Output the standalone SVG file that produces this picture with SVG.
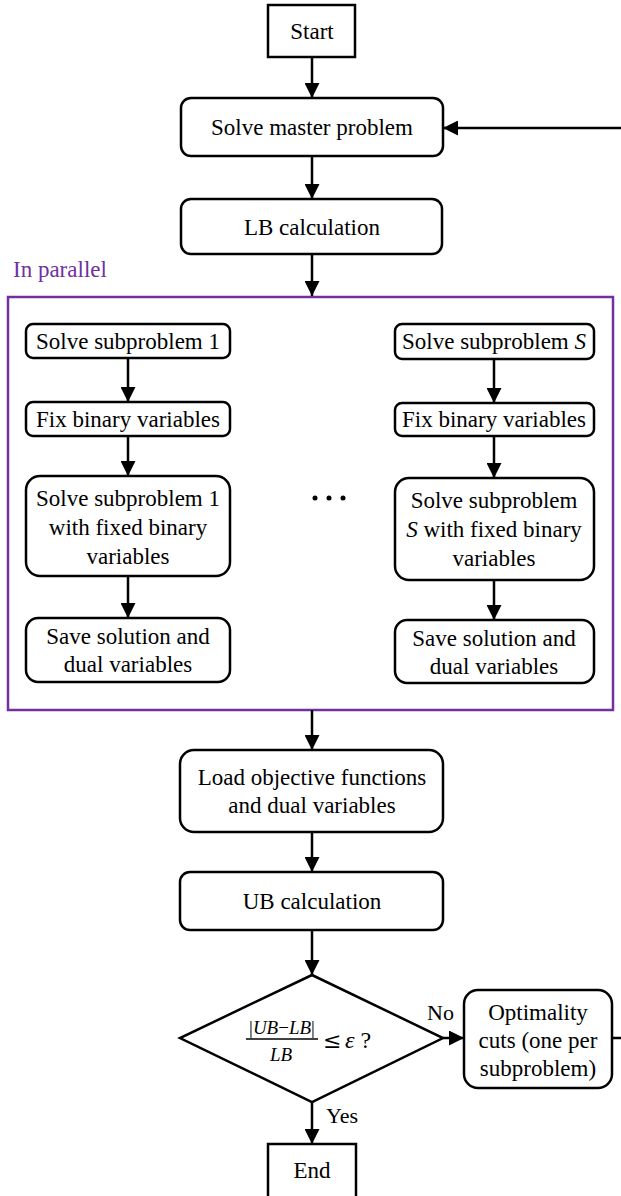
<svg xmlns="http://www.w3.org/2000/svg" width="621" height="1196" viewBox="0 0 621 1196">
<style>
.box{fill:#fff;stroke:#000;stroke-width:2.5}
.grp{fill:none;stroke:#7030A0;stroke-width:2.5}
.t{font-family:"Liberation Serif","Times New Roman",serif;font-size:23px;fill:#000;text-anchor:middle}
.lbl{font-family:"Liberation Serif","Times New Roman",serif;font-size:22px;fill:#000}
.m{font-family:"Liberation Serif","Times New Roman",serif;font-size:19px;fill:#000}
.i{font-style:italic}
.c{fill:none;stroke:#000;stroke-width:2.5}
</style>
<defs>
<marker id="ah" viewBox="0 0 10 10" refX="10" refY="5" markerUnits="userSpaceOnUse" markerWidth="15" markerHeight="15" orient="auto">
<path d="M0,0 L10,5 L0,10 z" fill="#000"/>
</marker>
</defs>
<rect width="621" height="1196" fill="#fff"/>

<g id="parallel">
<rect class="grp" x="8" y="297" width="605" height="413"/>
<text x="13" y="277" style="font-family:'Liberation Serif','Times New Roman',serif;font-size:23px;fill:#7030A0">In parallel</text>
</g>

<g id="start"><rect class="box" x="268" y="5" width="87" height="52"/><text class="t" x="312" y="39">Start</text></g>
<g id="master"><rect class="box" x="181" y="98" width="262" height="58" rx="10"/><text class="t" x="312" y="135">Solve master problem</text></g>
<g id="lb"><rect class="box" x="181" y="199" width="261" height="55" rx="10"/><text class="t" x="312" y="235">LB calculation</text></g>

<g id="sub1"><rect class="box" x="26" y="324" width="204" height="34" rx="7"/><text class="t" x="128" y="349">Solve subproblem 1</text></g>
<g id="fix1"><rect class="box" x="26" y="402" width="204" height="34" rx="7"/><text class="t" x="128" y="427">Fix binary variables</text></g>
<g id="solve1"><rect class="box" x="26" y="476" width="204" height="100" rx="14"/>
<text class="t" x="128" y="506">Solve subproblem 1</text><text class="t" x="128" y="535">with fixed binary</text><text class="t" x="128" y="564">variables</text></g>
<g id="save1"><rect class="box" x="26" y="618" width="204" height="64" rx="12"/>
<text class="t" x="128" y="644">Save solution and</text><text class="t" x="128" y="672">dual variables</text></g>

<g id="subS"><rect class="box" x="395" y="324" width="199" height="35" rx="7"/><text class="t" x="494" y="349">Solve subproblem <tspan class="i">S</tspan></text></g>
<g id="fixS"><rect class="box" x="395" y="403" width="199" height="33" rx="7"/><text class="t" x="494" y="427">Fix binary variables</text></g>
<g id="solveS"><rect class="box" x="395" y="478" width="199" height="102" rx="14"/>
<text class="t" x="494" y="508">Solve subproblem</text><text class="t" x="494" y="537"><tspan class="i">S</tspan> with fixed binary</text><text class="t" x="494" y="566">variables</text></g>
<g id="saveS"><rect class="box" x="395" y="620" width="199" height="63" rx="12"/>
<text class="t" x="494" y="646">Save solution and</text><text class="t" x="494" y="674">dual variables</text></g>

<g id="dots" fill="#000"><circle cx="315" cy="498" r="2.5"/><circle cx="329" cy="498" r="2.5"/><circle cx="343" cy="498" r="2.5"/></g>

<g id="load"><rect class="box" x="180" y="750" width="263" height="82" rx="14"/>
<text class="t" x="312" y="785">Load objective functions</text><text class="t" x="312" y="813">and dual variables</text></g>
<g id="ub"><rect class="box" x="180" y="872" width="263" height="58" rx="10"/><text class="t" x="312" y="909">UB calculation</text></g>

<g id="decision"><polygon class="box" points="312,975 443,1038 312,1102 180,1038"/>
<text class="m" x="282" y="1034" text-anchor="middle">|<tspan class="i">UB</tspan>−<tspan class="i">LB</tspan>|</text>
<line x1="246" y1="1039" x2="318" y2="1039" stroke="#000" stroke-width="1.3"/>
<text class="m i" x="281" y="1061" text-anchor="middle">LB</text>
<text x="323" y="1048" style="font-family:'DejaVu Serif',serif;font-size:22px">≤</text>
<text x="345" y="1048" style="font-family:'Liberation Serif','Times New Roman',serif;font-size:24px"><tspan font-style="italic">ε</tspan> ?</text>
</g>

<g id="opt"><rect class="box" x="464" y="990" width="148" height="98" rx="14"/>
<text class="t" x="538" y="1020">Optimality</text><text class="t" x="538" y="1048">cuts (one per</text><text class="t" x="538" y="1076">subproblem)</text></g>

<g id="end"><rect class="box" x="268" y="1144" width="88" height="60"/><text class="t" x="312" y="1178">End</text></g>

<g id="connectors">
<line class="c" x1="312" y1="57" x2="312" y2="98" marker-end="url(#ah)"/>
<line class="c" x1="312" y1="156" x2="312" y2="199" marker-end="url(#ah)"/>
<line class="c" x1="312" y1="254" x2="312" y2="296" marker-end="url(#ah)"/>
<line class="c" x1="128" y1="358" x2="128" y2="402" marker-end="url(#ah)"/>
<line class="c" x1="128" y1="436" x2="128" y2="476" marker-end="url(#ah)"/>
<line class="c" x1="128" y1="576" x2="128" y2="618" marker-end="url(#ah)"/>
<line class="c" x1="494" y1="359" x2="494" y2="403" marker-end="url(#ah)"/>
<line class="c" x1="494" y1="436" x2="494" y2="478" marker-end="url(#ah)"/>
<line class="c" x1="494" y1="580" x2="494" y2="620" marker-end="url(#ah)"/>
<line class="c" x1="312" y1="710" x2="312" y2="750" marker-end="url(#ah)"/>
<line class="c" x1="312" y1="832" x2="312" y2="872" marker-end="url(#ah)"/>
<line class="c" x1="312" y1="930" x2="312" y2="975" marker-end="url(#ah)"/>
<line class="c" x1="312" y1="1102" x2="312" y2="1144" marker-end="url(#ah)"/>
<line class="c" x1="443" y1="1038" x2="464" y2="1038" marker-end="url(#ah)"/>
<line class="c" x1="612" y1="1038" x2="622" y2="1038"/>
<line class="c" x1="622" y1="128" x2="443" y2="128" marker-end="url(#ah)"/>
<text class="lbl" x="427" y="1020">No</text>
<text class="lbl" x="326" y="1123">Yes</text>
</g>
</svg>
